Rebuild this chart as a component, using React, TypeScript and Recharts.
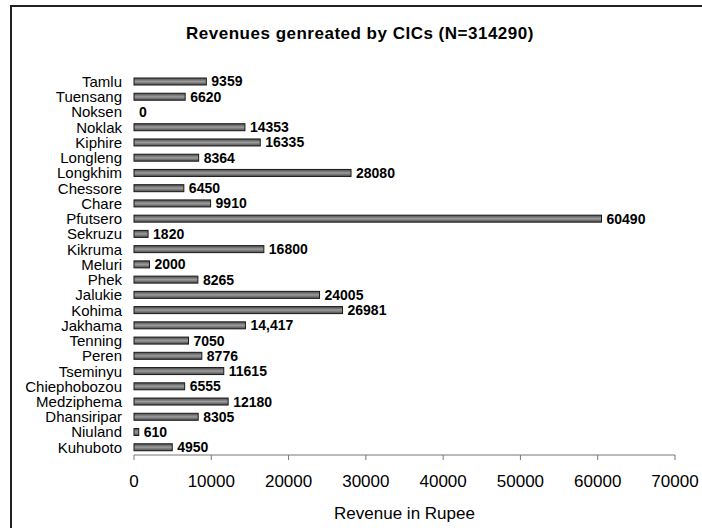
import { Bar, BarChart, LabelList, XAxis, YAxis } from 'recharts'

const centres = [
  'Tamlu', 'Tuensang', 'Noksen', 'Noklak', 'Kiphire', 'Longleng', 'Longkhim', 'Chessore', 'Chare',
  'Pfutsero', 'Sekruzu', 'Kikruma', 'Meluri', 'Phek', 'Jalukie', 'Kohima', 'Jakhama', 'Tenning',
  'Peren', 'Tseminyu', 'Chiephobozou', 'Medziphema', 'Dhansiripar', 'Niuland', 'Kuhuboto',
]

const revenue = [
  9359, 6620, 0, 14353, 16335, 8364, 28080, 6450, 9910,
  60490, 1820, 16800, 2000, 8265, 24005, 26981, 14417, 7050,
  8776, 11615, 6555, 12180, 8305, 610, 4950,
]

// as printed in the source (one value has a thousands separator)
const revenueLabels = [
  '9359', '6620', '0', '14353', '16335', '8364', '28080', '6450', '9910',
  '60490', '1820', '16800', '2000', '8265', '24005', '26981', '14,417', '7050',
  '8776', '11615', '6555', '12180', '8305', '610', '4950',
]

const xTicks = [0, 10000, 20000, 30000, 40000, 50000, 60000, 70000]

const data = centres.map((name, i) => ({ name, value: revenue[i], label: revenueLabels[i] }))

const font = '"Liberation Sans", Arial, sans-serif'

// zero-revenue bars get a tiny width so their label is still drawn, but no visible rect
const GradientBar = (props: any) => {
  const { x, y, width, height, payload } = props
  if (!payload || payload.value === 0) return null
  return <rect x={x} y={y} width={width} height={height} fill="url(#barFill)" stroke="#1a1a1a" strokeWidth={1} />
}

export default function App() {
  return (
    <div style={{ position: 'absolute', left: 0, top: 0, width: 702, height: 528, background: '#fff' }}>
      <div
        style={{
          position: 'absolute', left: 10, top: 5, width: 690, height: 521,
          borderLeft: '2px solid #222', borderTop: '2px solid #222',
        }}
      />
      <div
        style={{
          position: 'absolute', left: 0, width: 720, top: 24, textAlign: 'center',
          fontFamily: font, fontWeight: 'bold', fontSize: 17, letterSpacing: 0.5, color: '#000',
        }}
      >
        Revenues genreated by CICs (N=314290)
      </div>
      <div style={{ position: 'absolute', left: 0, top: 0 }}>
        <BarChart
          width={702}
          height={528}
          data={data}
          layout="vertical"
          margin={{ top: 74, right: 27, bottom: 0, left: 0 }}
        >
          <defs>
            <linearGradient id="barFill" x1="0" y1="0" x2="0" y2="1">
              <stop offset="0%" stopColor="#4a4a4a" />
              <stop offset="50%" stopColor="#9c9c9c" />
              <stop offset="100%" stopColor="#4a4a4a" />
            </linearGradient>
          </defs>
          <XAxis
            type="number"
            domain={[0, 70000]}
            ticks={xTicks}
            height={73}
            tickSize={5}
            tickMargin={15}
            stroke="#777"
            tick={{ fill: '#000', fontSize: 17, fontFamily: font }}
            label={{ value: 'Revenue in Rupee', position: 'insideBottom', offset: 9, fill: '#000', fontSize: 17, fontFamily: font }}
          />
          <YAxis
            type="category"
            dataKey="name"
            width={134}
            interval={0}
            axisLine={false}
            tickLine={false}
            tickMargin={6}
            tick={{ fill: '#000', fontSize: 15, fontFamily: font }}
          />
          <Bar
            dataKey="value"
            barSize={7}
            minPointSize={(v: number) => (v === 0 ? 0.01 : 0)}
            shape={GradientBar}
            isAnimationActive={false}
          >
            <LabelList dataKey="label" position="right" offset={5} fill="#000" fontSize={14} fontWeight="bold" fontFamily={font} />
          </Bar>
        </BarChart>
      </div>
    </div>
  )
}
